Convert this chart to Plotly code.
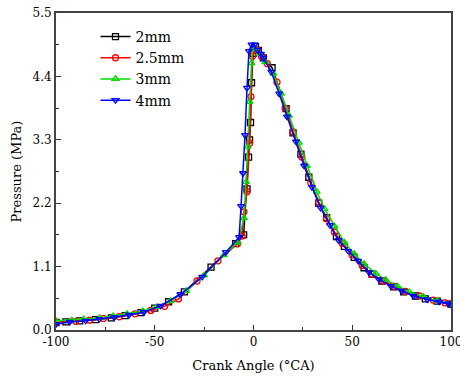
import plotly.graph_objects as go

# 2mm
x_2mm = [-100, -95, -88, -80, -72, -65, -57, -50, -43, -35, -21.5, -9, -5, -3.3, -2.5, -2.0, -1.5, -1.0, -0.2, 1.0, 2.5, 5, 9.4, 16.5, 20, 24, 28, 33, 37, 42, 46, 51, 56, 60, 65, 71, 76, 82, 87, 93, 100]
y_2mm = [0.13, 0.14, 0.16, 0.18, 0.21, 0.25, 0.30, 0.38, 0.49, 0.66, 1.09, 1.50, 1.65, 2.45, 3.00, 3.30, 3.60, 4.29, 4.80, 4.92, 4.85, 4.72, 4.55, 3.84, 3.42, 3.05, 2.65, 2.20, 1.95, 1.62, 1.45, 1.26, 1.08, 0.97, 0.85, 0.75, 0.66, 0.59, 0.54, 0.50, 0.45]
# 2.5mm
x_25mm = [-100, -90, -83, -76, -68, -60, -52, -45, -38, -28.6, -18, -8, -5.8, -4.8, -3.3, -2.0, -1.3, -0.5, 0.8, 2.2, 4, 7, 11.9, 16, 20, 24.5, 29, 33, 37, 41, 45, 50, 55, 60, 66, 71, 77, 84, 91, 97, 100]
y_25mm = [0.13, 0.15, 0.17, 0.20, 0.23, 0.28, 0.34, 0.41, 0.54, 0.85, 1.20, 1.50, 1.63, 2.05, 2.40, 3.24, 4.05, 4.75, 4.88, 4.85, 4.75, 4.62, 4.30, 3.85, 3.44, 3.00, 2.55, 2.22, 1.93, 1.70, 1.50, 1.30, 1.12, 0.97, 0.85, 0.76, 0.67, 0.59, 0.52, 0.47, 0.46]
# 3mm
x_3mm = [-100, -92, -86, -78, -71, -64, -56, -49, -42, -34, -25, -15, -8, -4.8, -3.8, -3.0, -2.0, -1.0, -0.3, 1.2, 3, 6, 10, 14, 18, 23, 27, 32, 36, 41, 46, 51, 56, 62, 67, 73, 79, 86, 93, 100]
y_3mm = [0.16, 0.17, 0.19, 0.21, 0.24, 0.28, 0.33, 0.40, 0.50, 0.68, 0.95, 1.30, 1.52, 1.94, 2.57, 3.18, 3.96, 4.63, 4.90, 4.88, 4.80, 4.65, 4.45, 4.10, 3.72, 3.25, 2.85, 2.40, 2.10, 1.80, 1.52, 1.32, 1.15, 0.98, 0.87, 0.76, 0.66, 0.58, 0.51, 0.46]
# 4mm
x_4mm = [-100, -93, -85, -78, -70.5, -63, -55.5, -47, -37, -26, -14, -7.3, -6.3, -5.3, -4.3, -3.3, -2.3, -1.0, 0.5, 2.0, 3.8, 5.0, 9.0, 13.0, 17.0, 21.5, 25.6, 29.6, 34.0, 38.7, 43.0, 48.0, 53.0, 58.5, 63.5, 69.6, 75.0, 81.0, 88.0, 94, 98.5, 100]
y_4mm = [0.10, 0.14, 0.16, 0.19, 0.22, 0.26, 0.31, 0.42, 0.62, 0.92, 1.35, 1.61, 2.15, 2.72, 3.38, 4.20, 4.84, 4.95, 4.95, 4.86, 4.79, 4.72, 4.48, 4.10, 3.70, 3.27, 2.85, 2.48, 2.12, 1.82, 1.56, 1.37, 1.20, 1.00, 0.88, 0.76, 0.68, 0.59, 0.53, 0.49, 0.46, 0.44]

y_ticks = [0.0, 1.1, 2.2, 3.3, 4.4, 5.5]
x_ticks = [-100, -50, 0, 50, 100]

series = [
    ("2mm", x_2mm, y_2mm, "#000000", "square-open"),
    ("2.5mm", x_25mm, y_25mm, "#ff0000", "circle-open"),
    ("3mm", x_3mm, y_3mm, "#00dd00", "triangle-up-open"),
    ("4mm", x_4mm, y_4mm, "#0000ff", "triangle-down-open"),
]

fig = go.Figure()
for name, xs, ys, col, sym in series:
    fig.add_trace(go.Scatter(
        x=xs, y=ys, name=name, mode="lines+markers",
        line=dict(color=col, width=1.5),
        marker=dict(symbol=sym, size=6, color=col, line=dict(color=col, width=1.3)),
    ))

font = "DejaVu Serif"
fig.update_layout(
    width=460, height=381,
    margin=dict(l=56, r=9, t=13, b=51, autoexpand=False),
    paper_bgcolor="white", plot_bgcolor="white",
    font=dict(family=font, size=12, color="#000"),
    showlegend=True,
    legend=dict(x=0.1, y=0.975, xanchor="left", yanchor="top",
                bgcolor="rgba(0,0,0,0)", font=dict(family=font, size=14),
                tracegroupgap=0, itemwidth=30),
    xaxis=dict(range=[-100, 100], tickvals=x_ticks, ticktext=[str(v) for v in x_ticks],
               ticks="inside", ticklen=5, tickwidth=1, tickcolor="#333",
               minor=dict(ticks="inside", ticklen=3, dtick=25, tick0=-100, tickcolor="#333"),
               showline=True, linecolor="#444", linewidth=2, mirror=True,
               showgrid=False, zeroline=False, automargin=False, ticklabeloverflow="allow",
               title=dict(text="Crank Angle (°CA)", font=dict(family=font, size=13), standoff=12),
               tickfont=dict(family=font, size=12)),
    yaxis=dict(range=[0, 5.5], tickvals=y_ticks, ticktext=[f"{v:.1f}" for v in y_ticks],
               ticks="inside", ticklen=5, tickwidth=1, tickcolor="#333",
               minor=dict(ticks="inside", ticklen=3, dtick=0.55, tick0=0, tickcolor="#333"),
               showline=True, linecolor="#444", linewidth=2, mirror=True,
               showgrid=False, zeroline=False, automargin=False, ticklabeloverflow="allow",
               title=dict(text="Pressure (MPa)", font=dict(family=font, size=13), standoff=8),
               tickfont=dict(family=font, size=12)),
)

fig.write_html("out.html")
